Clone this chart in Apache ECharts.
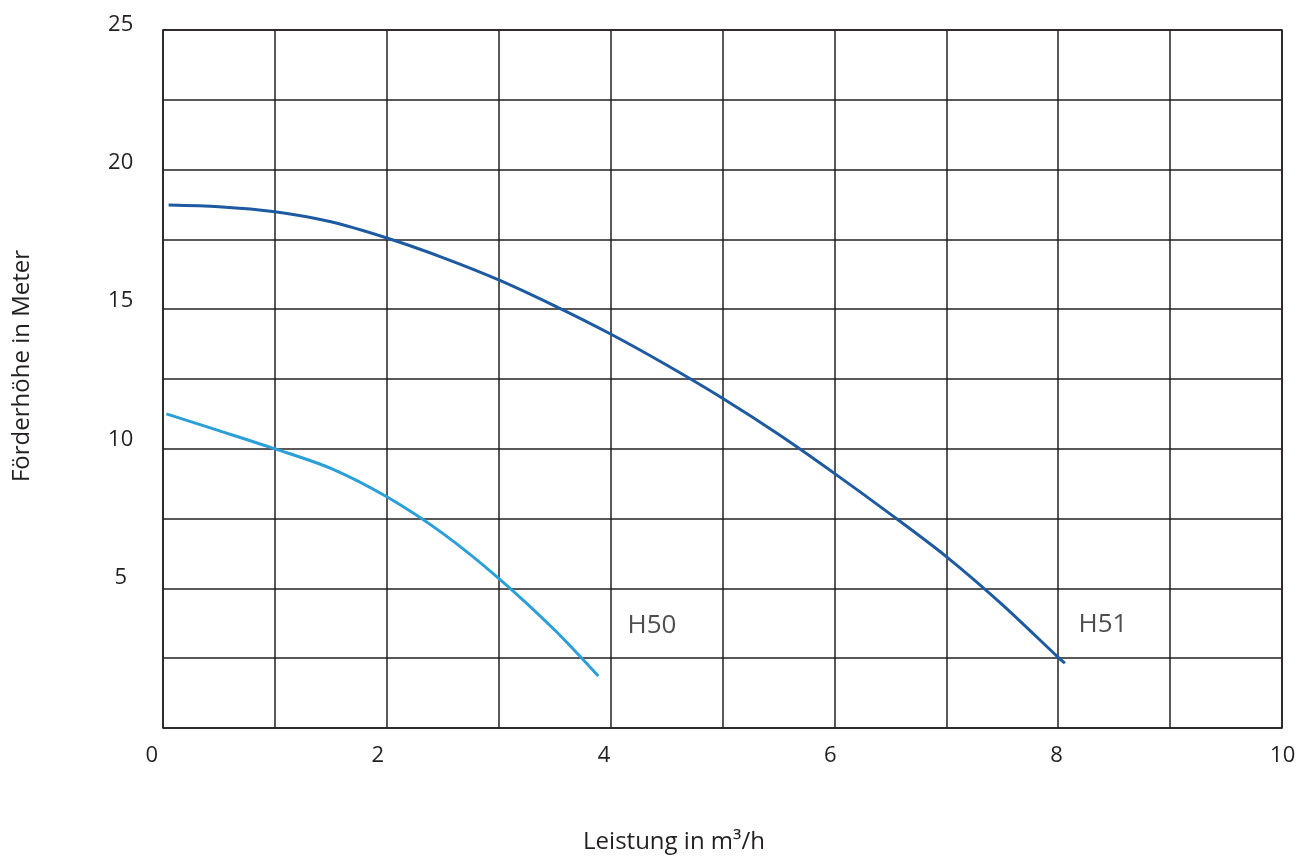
<!DOCTYPE html>
<html>
<head>
<meta charset="utf-8">
<script src="https://cdn.jsdelivr.net/npm/echarts@6/dist/echarts.min.js"></script>
<style>
html,body{margin:0;padding:0;background:#fff;}
#chart{width:1307px;height:857px;}
</style>
</head>
<body>
<div id="chart"></div>
<script>
// ---- data ----
const xTickLabels = ['0', '2', '4', '6', '8', '10'];
const yTickLabels = ['5', '10', '15', '20', '25'];

const h51X = [0.05, 0.5, 1, 1.5, 2, 2.5, 3, 3.5, 4, 4.5, 5, 5.5, 6, 6.5, 7, 7.5, 8, 8.06];
const h51Y = [18.73, 18.67, 18.49, 18.13, 17.55, 16.85, 16.05, 15.12, 14.11, 13.0, 11.81, 10.52, 9.12, 7.66, 6.14, 4.42, 2.53, 2.32];

const h50X = [0.03, 0.5, 1, 1.5, 2, 2.5, 3, 3.5, 3.89];
const h50Y = [11.25, 10.65, 10.0, 9.3, 8.28, 6.97, 5.36, 3.51, 1.86];

const curveNames = ['H50', 'H51'];
const curveLabelX = [4.37, 8.40];
const curveLabelY = [3.67, 3.69];

const xName = 'Leistung in m³/h';
const yName = 'Förderhöhe in Meter';

// ---- chart ----
const zip = (xs, ys) => xs.map((x, i) => [x, ys[i]]);
const ink = '#231f20';
const font = 'Open Sans';

const chart = echarts.init(document.getElementById('chart'), null, {renderer: 'canvas'});
chart.setOption({
  animation: false,
  backgroundColor: '#fff',
  grid: [
    {left: 163, right: 25, top: 30, bottom: 129, containLabel: false, outerBoundsMode: 'none',
     show: true, borderColor: ink, borderWidth: 1.5, backgroundColor: 'transparent'},
    {left: 151.7, right: 24.3, top: 24.5, bottom: 141.25, containLabel: false, outerBoundsMode: 'none'}
  ],
  xAxis: [
    {
      type: 'value', gridIndex: 0, min: 0, max: 10, interval: 1,
      axisLine: {show: false}, axisTick: {show: false}, axisLabel: {show: false},
      splitLine: {show: true, lineStyle: {color: ink, width: 1.5}},
      name: xName, nameLocation: 'middle', nameGap: 102,
      nameTextStyle: {fontFamily: font, fontSize: 24, color: ink, padding: [0, 97, 0, 0]}
    },
    {
      type: 'value', gridIndex: 1, min: 0, max: 10, interval: 2,
      axisLine: {show: false}, axisTick: {show: false}, splitLine: {show: false},
      axisLabel: {
        show: true, margin: 29, fontFamily: font, fontSize: 22, color: ink,
        formatter: v => xTickLabels.includes(String(v)) ? String(v) : ''
      }
    }
  ],
  yAxis: [
    {
      type: 'value', gridIndex: 0, min: 0, max: 25, interval: 2.5,
      axisLine: {show: false}, axisTick: {show: false}, axisLabel: {show: false},
      splitLine: {show: true, lineStyle: {color: ink, width: 1.5}},
      name: yName, nameLocation: 'middle', nameGap: 129,
      nameTextStyle: {fontFamily: font, fontSize: 24, color: ink, padding: [0, 0, 0, 26]}
    },
    {
      type: 'value', gridIndex: 1, min: 0, max: 25, interval: 5,
      axisLine: {show: false}, axisTick: {show: false}, splitLine: {show: false},
      axisLabel: {
        show: true, margin: 31, align: 'center', fontFamily: font, fontSize: 22, color: ink,
        formatter: v => yTickLabels.includes(String(v)) ? String(v) : ''
      }
    }
  ],
  series: [
    {
      name: 'H50', type: 'line', xAxisIndex: 0, yAxisIndex: 0,
      data: zip(h50X, h50Y), smooth: 0.3, showSymbol: false, symbol: 'none',
      lineStyle: {color: '#2b9fd8', width: 3}, z: 5
    },
    {
      name: 'H51', type: 'line', xAxisIndex: 0, yAxisIndex: 0,
      data: zip(h51X, h51Y), smooth: 0.3, showSymbol: false, symbol: 'none',
      lineStyle: {color: '#1d5aa2', width: 3}, z: 5
    },
    {
      type: 'scatter', xAxisIndex: 0, yAxisIndex: 0,
      data: curveNames.map((n, i) => ({name: n, value: [curveLabelX[i], curveLabelY[i]]})),
      symbolSize: 1, itemStyle: {color: 'rgba(0,0,0,0)'},
      label: {show: true, position: 'inside', formatter: p => p.name,
              fontFamily: font, fontSize: 26, color: ink},
      silent: true, z: 6
    }
  ]
});
</script>
</body>
</html>
